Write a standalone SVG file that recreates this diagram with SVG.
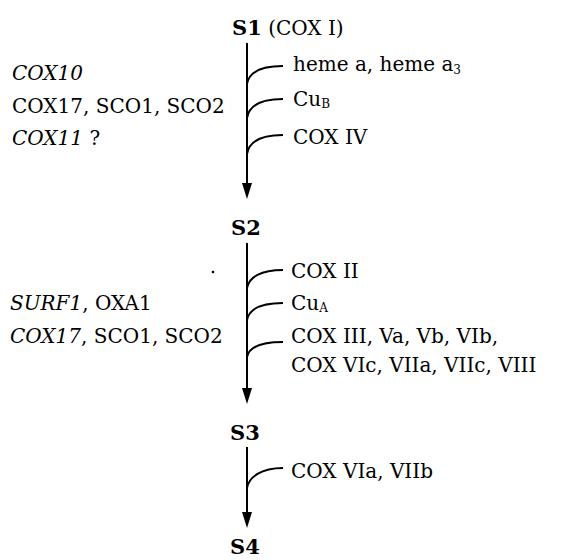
<svg xmlns="http://www.w3.org/2000/svg" width="561" height="560" viewBox="0 0 561 560">
<style>
text{font-family:"DejaVu Serif","Liberation Serif",serif;font-size:20px;fill:#000}
.b{font-weight:bold;font-size:21px}
.i{font-style:italic}
.sub{font-size:12px}
.ln{stroke:#000;stroke-width:2;fill:none}
.br{stroke:#000;stroke-width:2;fill:none}
.ah{fill:#000}
</style>
<rect width="561" height="560" fill="#fff"/>
<g id="connectors">
<line class="ln" x1="247" y1="43" x2="247" y2="183"/>
<path class="ah" d="M242,183 L252,183 L247,199 Z"/>
<line class="ln" x1="247" y1="243" x2="247" y2="388"/>
<path class="ah" d="M242,388 L252,388 L247,404 Z"/>
<line class="ln" x1="247" y1="447" x2="247" y2="512"/>
<path class="ah" d="M242,512 L252,512 L247,528 Z"/>
<path class="br" d="M247,84 C249,72 261,66 283,66"/>
<path class="br" d="M247,118 C249,106 261,99 283,99"/>
<path class="br" d="M247,154 C249,142 261,135 283,135"/>
<path class="br" d="M247,288 C249,277 261,270 283,270"/>
<path class="br" d="M247,320 C249,309 261,303 283,303"/>
<path class="br" d="M247,357 C249,347 261,342 283,342"/>
<path class="br" d="M247,488 C249,477 261,468 283,468"/>
</g>
<g id="S1"><text x="232" y="35"><tspan class="b">S1</tspan> (COX I)</text></g>
<g id="S2"><text class="b" x="231" y="235">S2</text></g>
<g id="S3"><text class="b" x="230" y="440">S3</text></g>
<g id="S4"><text class="b" x="230" y="554">S4</text></g>
<g id="left1">
<text class="i" x="12" y="80">COX10</text>
<text x="12" y="113">COX17, SCO1, SCO2</text>
<text x="12" y="145"><tspan class="i">COX11</tspan> ?</text>
</g>
<g id="right1">
<text x="293" y="71">heme a, heme a<tspan class="sub" dy="3">3</tspan></text>
<text x="293" y="106">Cu<tspan class="sub" dy="2">B</tspan></text>
<text x="293" y="144">COX IV</text>
</g>
<g id="left2">
<text x="10" y="310"><tspan class="i">SURF1</tspan>, OXA1</text>
<text x="10" y="343"><tspan class="i">COX17</tspan>, SCO1, SCO2</text>
</g>
<g id="right2">
<text x="291" y="278">COX II</text>
<text x="291" y="310">Cu<tspan class="sub" dy="2">A</tspan></text>
<text x="291" y="343">COX III, Va, Vb, VIb,</text>
<text x="291" y="372">COX VIc, VIIa, VIIc, VIII</text>
</g>
<g id="right3">
<text x="291" y="478">COX VIa, VIIb</text>
</g>
<circle cx="213" cy="272" r="1.3" fill="#000"/>
</svg>
